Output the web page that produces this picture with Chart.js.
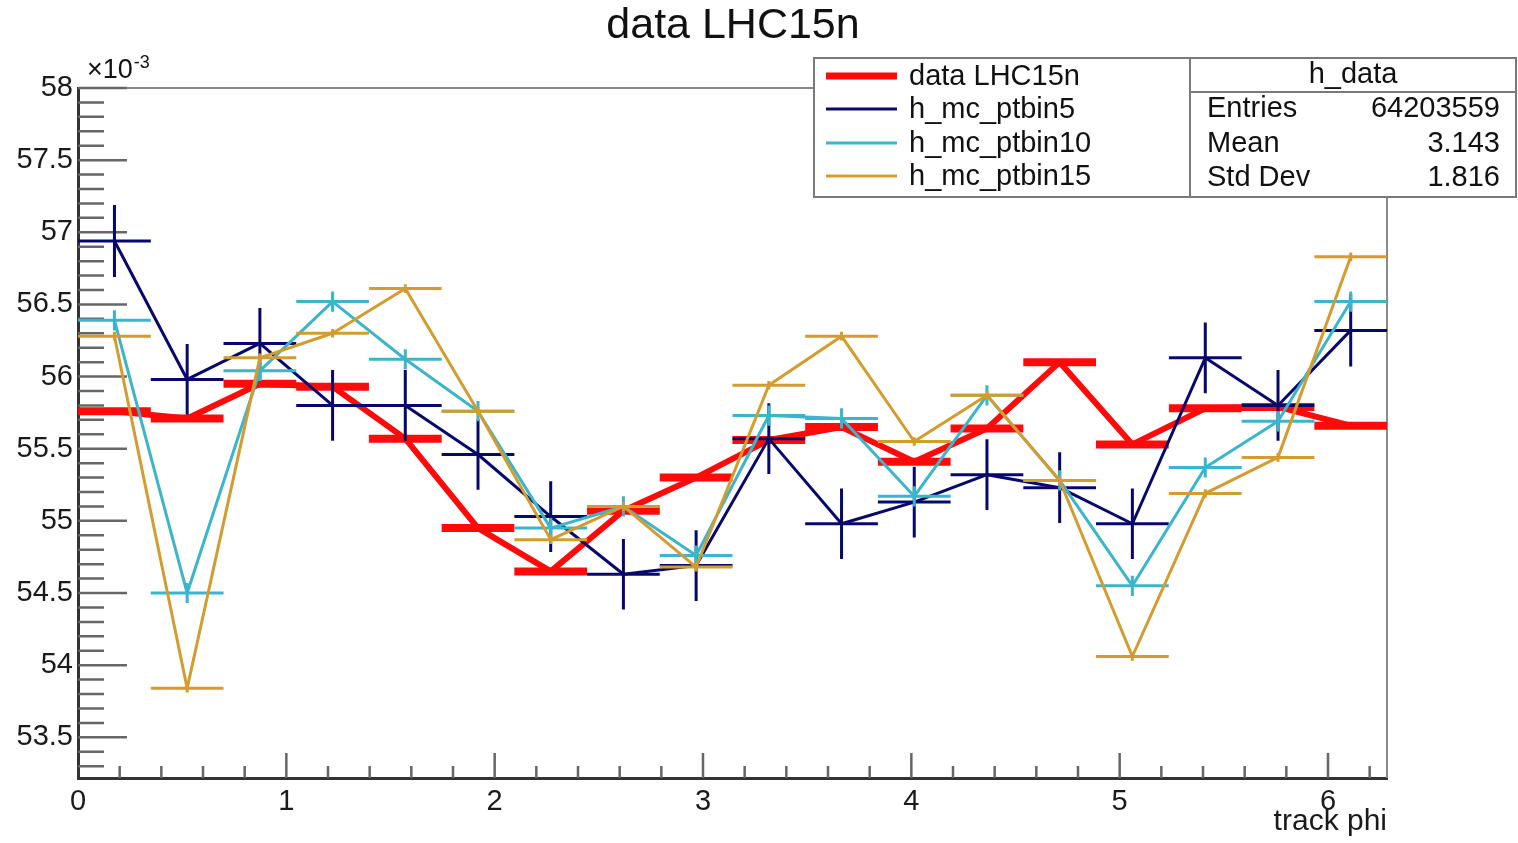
<!DOCTYPE html>
<html><head><meta charset="utf-8">
<script src="https://cdn.jsdelivr.net/npm/chart.js@4.4.1/dist/chart.umd.min.js"></script>
<style>html,body{margin:0;padding:0;background:#fff;overflow:hidden}canvas{display:block}</style>
</head><body>
<canvas id="c" width="1518" height="843"></canvas>
<script>
// ---------- data ----------
const titleText = 'data LHC15n';
const xAxisTitle = 'track phi';
const yExponent = '-3';
const PHI_MAX = 6.2832;
const BIN_WIDTH = 0.3491;
const phiCenters = [0.175, 0.524, 0.873, 1.222, 1.571, 1.920, 2.269, 2.618, 2.967, 3.316, 3.665, 4.014, 4.363, 4.712, 5.061, 5.411, 5.760, 6.109];

const seriesLabels = ['data LHC15n', 'h_mc_ptbin5', 'h_mc_ptbin10', 'h_mc_ptbin15'];
const dataLHC15n   = [55.76, 55.71, 55.95, 55.93, 55.57, 54.95, 54.65, 55.07, 55.30, 55.56, 55.65, 55.41, 55.64, 56.10, 55.53, 55.78, 55.79, 55.66];
const mcPtbin5     = [56.94, 55.98, 56.23, 55.80, 55.80, 55.46, 55.03, 54.63, 54.69, 55.57, 54.98, 55.13, 55.32, 55.23, 54.98, 56.13, 55.80, 56.32];
const mcPtbin10    = [56.39, 54.50, 56.04, 56.52, 56.12, 55.76, 54.95, 55.10, 54.76, 55.73, 55.71, 55.17, 55.87, 55.28, 54.55, 55.37, 55.69, 56.52];
const mcPtbin15    = [56.28, 53.84, 56.13, 56.30, 56.61, 55.76, 54.87, 55.10, 54.68, 55.94, 56.28, 55.55, 55.87, 55.28, 54.06, 55.19, 55.44, 56.83];

const errLHC15n  = [0.01, 0.01, 0.01, 0.01, 0.01, 0.01, 0.01, 0.01, 0.01, 0.01, 0.01, 0.01, 0.01, 0.01, 0.01, 0.01, 0.01, 0.01];
const errPtbin5  = [0.25, 0.245, 0.245, 0.245, 0.245, 0.245, 0.245, 0.245, 0.245, 0.245, 0.245, 0.245, 0.245, 0.245, 0.245, 0.245, 0.245, 0.25];
const errPtbin10 = [0.07, 0.07, 0.07, 0.07, 0.07, 0.07, 0.07, 0.07, 0.07, 0.07, 0.07, 0.07, 0.07, 0.07, 0.07, 0.07, 0.07, 0.07];
const errPtbin15 = [0.03, 0.03, 0.03, 0.03, 0.03, 0.03, 0.03, 0.03, 0.03, 0.03, 0.03, 0.03, 0.03, 0.03, 0.03, 0.03, 0.03, 0.03];

const xTicks = [0, 1, 2, 3, 4, 5, 6];
const yTicks = [53.5, 54, 54.5, 55, 55.5, 56, 56.5, 57, 57.5, 58];
const Y_MIN = 53.218, Y_MAX = 58.0;

const statsTitle = 'h_data';
const statLabels = ['Entries', 'Mean', 'Std Dev'];
const statValues = ['64203559', '3.143', '1.816'];

// ---------- styles ----------
const FONT = "'Liberation Sans', Arial, sans-serif";
const colors = ['#ff0a0a', '#08086c', '#3bb5cb', '#d49b2e'];
const lineWidths = [6, 3, 3, 3];
const barWidths = [8, 3, 3, 3];
const orders = [3, 2, 1, 0];
const allVals = [dataLHC15n, mcPtbin5, mcPtbin10, mcPtbin15];
const allErrs = [errLHC15n, errPtbin5, errPtbin10, errPtbin15];

const halfBin = (ctx) => {
  const s = ctx.chart.scales.x;
  return Math.abs(s.getPixelForValue(BIN_WIDTH) - s.getPixelForValue(0)) / 2;
};

const datasets = seriesLabels.map((lab, k) => ({
  label: lab,
  data: phiCenters.map((x, i) => ({x: x, y: allVals[k][i]})),
  errors: allErrs[k],
  borderColor: colors[k],
  backgroundColor: colors[k],
  borderWidth: lineWidths[k],
  borderJoinStyle: 'round',
  tension: 0,
  fill: false,
  pointStyle: 'line',
  pointRadius: halfBin,
  pointHoverRadius: halfBin,
  pointBorderWidth: barWidths[k],
  pointBorderColor: colors[k],
  pointBackgroundColor: colors[k],
  order: orders[k],
  barW: barWidths[k]
}));

// ---------- plugins ----------
const errorBars = {
  id: 'errorBars',
  afterDatasetDraw(chart, args) {
    const ds = chart.data.datasets[args.index];
    const {ctx, chartArea: a, scales: {x, y}} = chart;
    ctx.save();
    ctx.beginPath(); ctx.rect(a.left, a.top, a.right - a.left, a.bottom - a.top); ctx.clip();
    ctx.strokeStyle = ds.borderColor;
    ctx.lineWidth = ds.barW;
    ctx.beginPath();
    ds.data.forEach((p, i) => {
      const e = ds.errors[i];
      const px = x.getPixelForValue(p.x);
      ctx.moveTo(px, y.getPixelForValue(p.y - e));
      ctx.lineTo(px, y.getPixelForValue(p.y + e));
    });
    ctx.stroke();
    ctx.restore();
  }
};

const frameTicks = {
  id: 'frameTicks',
  beforeDatasetsDraw(chart) {
    const {ctx, chartArea: a, scales: {x, y}} = chart;
    ctx.save();
    ctx.strokeStyle = '#8a8a8a'; ctx.lineWidth = 2;
    ctx.beginPath();
    ctx.moveTo(a.left, a.top); ctx.lineTo(a.right, a.top); ctx.lineTo(a.right, a.bottom);
    ctx.stroke();
    ctx.strokeStyle = '#666'; ctx.lineWidth = 2.5;
    ctx.beginPath();
    for (let v = 0.2; v < PHI_MAX; v += 0.2) {
      const major = Math.abs(v - Math.round(v)) < 1e-6;
      const px = x.getPixelForValue(v);
      ctx.moveTo(px, a.bottom); ctx.lineTo(px, a.bottom - (major ? 25 : 12));
    }
    for (let v = 53.3; v <= 58.001; v += 0.1) {
      const major = Math.abs(v * 2 - Math.round(v * 2)) < 1e-6;
      const py = y.getPixelForValue(v);
      ctx.moveTo(a.left, py); ctx.lineTo(a.left + (major ? 49 : 26), py);
    }
    ctx.stroke();
    ctx.restore();
  },
  afterDraw(chart) {
    const {ctx} = chart;
    ctx.save();
    ctx.fillStyle = '#111';
    ctx.font = '43px ' + FONT;
    ctx.textAlign = 'center'; ctx.textBaseline = 'alphabetic';
    ctx.fillText(titleText, 733, 38);
    ctx.textAlign = 'left';
    ctx.font = '27px ' + FONT;
    ctx.fillText('\u00d710', 87, 78);
    const w = ctx.measureText('\u00d710').width;
    ctx.font = '18px ' + FONT;
    ctx.fillText(yExponent, 87 + w + 1, 68);

    const L = 814, R = 1516, T = 58, B = 197, D = 1190, H = 92;
    ctx.fillStyle = '#fff';
    ctx.fillRect(L, T, R - L, B - T);
    ctx.strokeStyle = '#7a7a7a'; ctx.lineWidth = 2;
    ctx.strokeRect(L, T, R - L, B - T);
    ctx.beginPath();
    ctx.moveTo(D, T); ctx.lineTo(D, B);
    ctx.moveTo(D, H); ctx.lineTo(R, H);
    ctx.stroke();

    const rows = [76, 109, 143, 176];
    ctx.font = '29px ' + FONT;
    ctx.textBaseline = 'middle';
    chart.data.datasets.forEach((ds, k) => {
      ctx.strokeStyle = ds.borderColor;
      ctx.lineWidth = k === 0 ? 7 : 3;
      ctx.beginPath(); ctx.moveTo(826, rows[k]); ctx.lineTo(897, rows[k]); ctx.stroke();
      ctx.fillStyle = '#111';
      ctx.textAlign = 'left';
      ctx.fillText(ds.label, 909, rows[k] + 1);
    });
    ctx.fillStyle = '#111';
    ctx.textAlign = 'center';
    ctx.fillText(statsTitle, (D + R) / 2, 75);
    const srows = [109, 144, 178];
    statLabels.forEach((s, i) => {
      ctx.textAlign = 'left'; ctx.fillText(s, 1207, srows[i]);
      ctx.textAlign = 'right'; ctx.fillText(statValues[i], 1500, srows[i]);
    });
    ctx.restore();
  }
};

// ---------- chart ----------
new Chart(document.getElementById('c').getContext('2d'), {
  type: 'line',
  data: {datasets: datasets},
  options: {
    responsive: false,
    animation: false,
    events: [],
    layout: {padding: {left: 0, right: 131, top: 88, bottom: 0}},
    plugins: {legend: {display: false}, title: {display: false}, tooltip: {enabled: false}},
    scales: {
      x: {
        type: 'linear', min: 0, max: PHI_MAX,
        afterBuildTicks: (s) => { s.ticks = xTicks.map(v => ({value: v})); },
        afterFit: (s) => { s.height = 65; },
        grid: {display: false, drawTicks: false},
        border: {display: true, color: '#333', width: 3},
        ticks: {font: {family: FONT, size: 29}, color: '#1a1a1a', padding: 7, maxRotation: 0, autoSkip: false,
                callback: (v) => String(v)},
        title: {display: true, text: xAxisTitle, align: 'end', color: '#1a1a1a',
                font: {family: FONT, size: 30}, padding: {top: 0, bottom: 3}}
      },
      y: {
        type: 'linear', min: Y_MIN, max: Y_MAX,
        afterBuildTicks: (s) => { s.ticks = yTicks.map(v => ({value: v})); },
        afterFit: (s) => { s.width = 78; },
        grid: {display: false, drawTicks: false},
        border: {display: true, color: '#333', width: 3},
        ticks: {font: {family: FONT, size: 29}, color: '#1a1a1a', padding: 5, autoSkip: false,
                callback: (v) => String(v)}
      }
    }
  },
  plugins: [errorBars, frameTicks]
});
</script>
</body></html>
